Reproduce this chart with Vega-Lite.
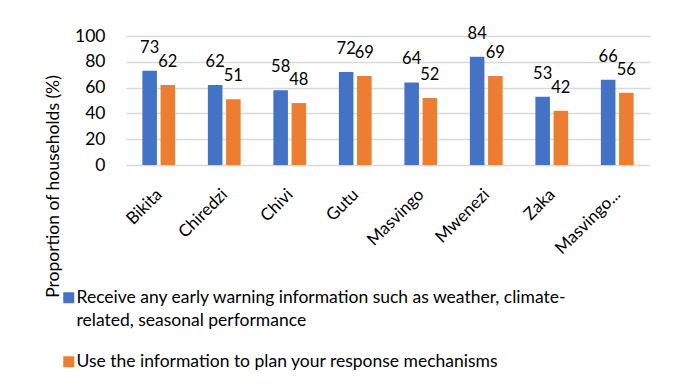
{
  "$schema": "https://vega.github.io/schema/vega-lite/v6.json",
  "autosize": {"type": "none"},
  "width": 524,
  "height": 129,
  "padding": {"left": 126, "top": 36, "right": 23, "bottom": 224},
  "background": "#ffffff",
  "config": {
    "font": "Lato",
    "view": {"stroke": null},
    "axis": {"labelColor": "#000000", "titleColor": "#000000", "labelFont": "Lato", "titleFont": "Lato"},
    "legend": {"labelColor": "#000000", "labelFont": "Lato"},
    "style": {"guide-label": {"lineHeight": 23}}
  },
  "data": {
    "values": [
      {"district": "Bikita", "series": "Receive any early warning information such as weather, climate-related, seasonal performance", "value": 73},
      {"district": "Bikita", "series": "Use the information to plan your response mechanisms", "value": 62},
      {"district": "Chiredzi", "series": "Receive any early warning information such as weather, climate-related, seasonal performance", "value": 62},
      {"district": "Chiredzi", "series": "Use the information to plan your response mechanisms", "value": 51},
      {"district": "Chivi", "series": "Receive any early warning information such as weather, climate-related, seasonal performance", "value": 58},
      {"district": "Chivi", "series": "Use the information to plan your response mechanisms", "value": 48},
      {"district": "Gutu", "series": "Receive any early warning information such as weather, climate-related, seasonal performance", "value": 72},
      {"district": "Gutu", "series": "Use the information to plan your response mechanisms", "value": 69},
      {"district": "Masvingo", "series": "Receive any early warning information such as weather, climate-related, seasonal performance", "value": 64},
      {"district": "Masvingo", "series": "Use the information to plan your response mechanisms", "value": 52},
      {"district": "Mwenezi", "series": "Receive any early warning information such as weather, climate-related, seasonal performance", "value": 84},
      {"district": "Mwenezi", "series": "Use the information to plan your response mechanisms", "value": 69},
      {"district": "Zaka", "series": "Receive any early warning information such as weather, climate-related, seasonal performance", "value": 53},
      {"district": "Zaka", "series": "Use the information to plan your response mechanisms", "value": 42},
      {"district": "Masvingo...", "series": "Receive any early warning information such as weather, climate-related, seasonal performance", "value": 66},
      {"district": "Masvingo...", "series": "Use the information to plan your response mechanisms", "value": 56}
    ]
  },
  "encoding": {
    "x": {
      "field": "district", "type": "nominal", "sort": null,
      "scale": {"paddingInner": 0.5, "paddingOuter": 0.25},
      "axis": {
        "title": null, "domain": false, "ticks": false, "grid": false,
        "labelAngle": -45, "labelAlign": "right", "labelBaseline": "top",
        "labelPadding": 21, "labelOffset": -5, "labelFontSize": 17, "labelLimit": 200
      }
    },
    "xOffset": {
      "field": "series", "type": "nominal", "sort": null,
      "scale": {"paddingInner": 0.2, "paddingOuter": 0}
    },
    "y": {
      "field": "value", "type": "quantitative",
      "scale": {"domain": [0, 100], "nice": false},
      "axis": {
        "title": "Proportion of households (%)",
        "values": [0, 20, 40, 60, 80, 100],
        "domain": false, "ticks": false,
        "gridColor": "#D9D9D9", "gridWidth": 1.3,
        "labelFontSize": 17.5, "labelPadding": 21,
        "titleFontSize": 17.5, "titleFontWeight": "normal",
        "titleAngle": 270, "titleAlign": "center", "titleBaseline": "alphabetic",
        "titleX": -68, "titleY": 150
      }
    }
  },
  "layer": [
    {
      "mark": {"type": "bar"},
      "encoding": {
        "color": {
          "field": "series", "type": "nominal", "sort": null,
          "scale": {
            "domain": ["Receive any early warning information such as weather, climate-related, seasonal performance", "Use the information to plan your response mechanisms"],
            "range": ["#4472C4", "#ED7D31"]
          },
          "legend": {
            "title": null, "orient": "none", "direction": "vertical",
            "legendX": -66, "legendY": 253, "padding": 0,
            "symbolType": "square", "symbolSize": 121, "symbolStrokeWidth": 0,
            "labelFontSize": 17.5, "labelLimit": 700, "labelOffset": -1,
            "rowPadding": 22,
            "labelExpr": "datum.label == 'Receive any early warning information such as weather, climate-related, seasonal performance' ? ['Receive any early warning information such as weather, climate-', 'related, seasonal performance'] : datum.label"
          }
        }
      }
    },
    {
      "mark": {"type": "text", "baseline": "alphabetic", "dy": -18, "fontSize": 16.5, "color": "#000000"},
      "encoding": {
        "text": {"field": "value", "type": "quantitative"}
      }
    }
  ]
}
